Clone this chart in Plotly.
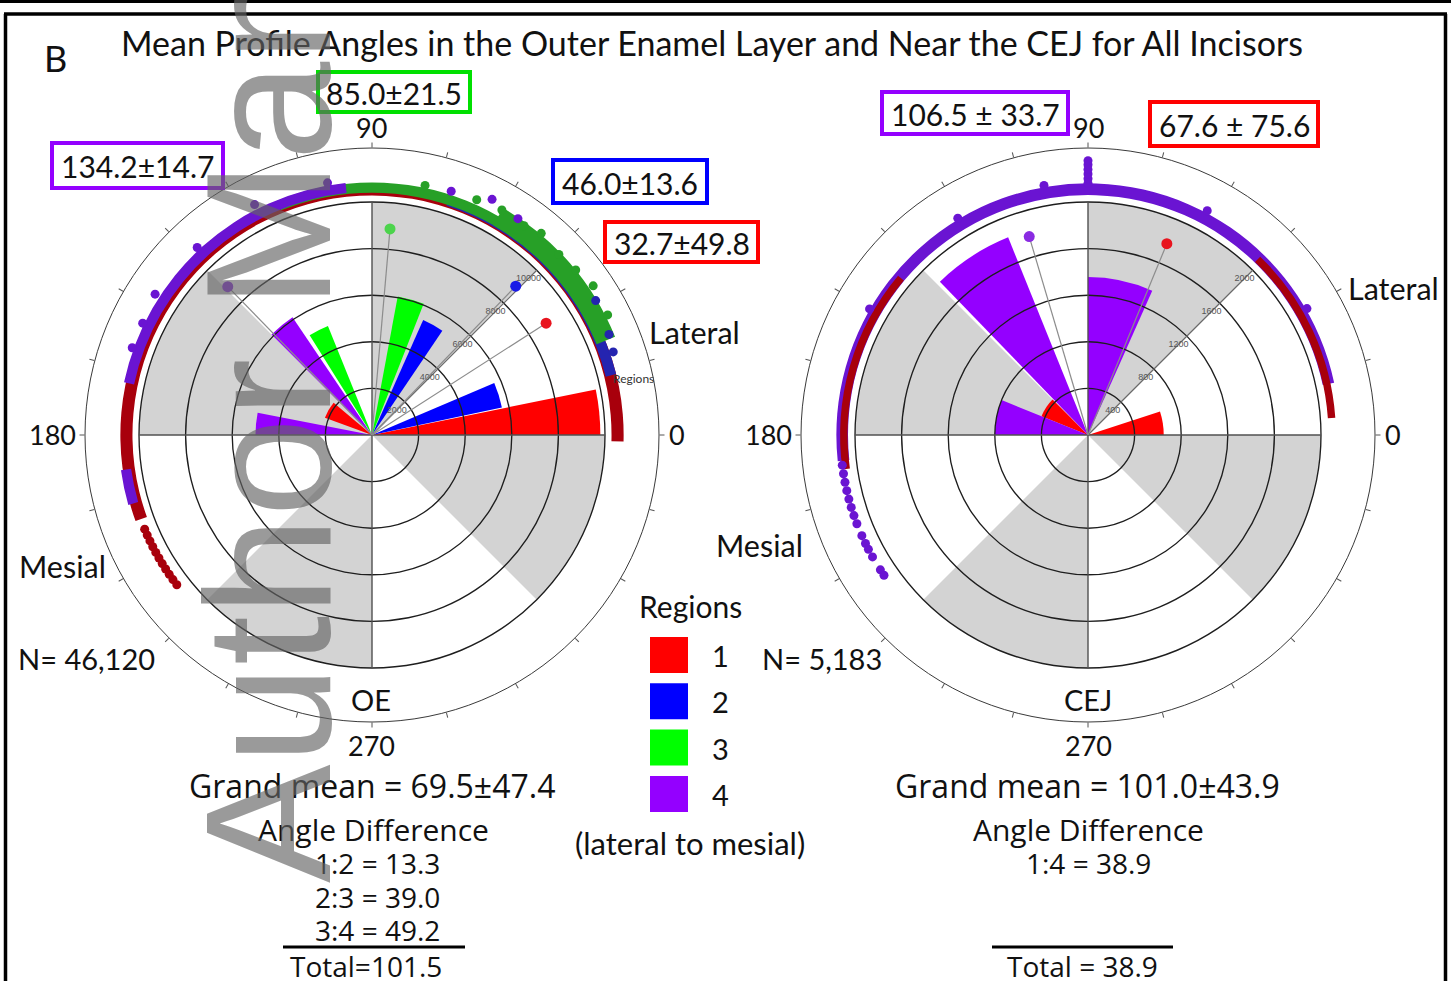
import plotly.graph_objects as go

W, H = 1451, 981

# ---------------- colours ----------------
REGION_COLORS = {1: "#ff0000", 2: "#0000ff", 3: "#00ff00", 4: "#9400ff"}
RING_COLORS = {1: "#a8000c", 2: "#2424b0", 3: "#27a027", 4: "#6a14d2"}
DOT_COLORS = {1: "#e8141e", 2: "#1a1ae6", 3: "#4cd44c", 4: "#8a2be2"}
SECTOR_GRAY = "#d3d3d3"

# ---------------- Outer enamel layer (OE) ----------------
oe_ticks = [2000, 4000, 6000, 8000, 10000]
oe_bin_region = [1, 1, 2, 2, 3, 3, 4, 4]
oe_bin_theta = [5.75, 150, 17.5, 61, 74, 117, 129.5, 174.5]
oe_bin_width = [11.5, 20, 11, 10, 11, 10, 11, 11]
oe_bin_count = [9800, 2150, 5700, 5400, 6050, 5050, 6100, 5000]

oe_mean_region = [1, 2, 3, 4]
oe_mean = [32.7, 46.0, 85.0, 134.2]
oe_sd = [49.8, 13.6, 21.5, 14.7]

# angular spread of the individual profile angles (ring around the rose)
oe_ring_region = [1, 2, 3, 3, 4, 4]
oe_ring_start = [-1.5, 14, 24, 22, 96, 188]
oe_ring_end = [200, 72, 112, 60, 168, 196]
oe_ring_wide = [False, False, False, True, False, False]

oe_pt_region = [2, 2, 2, 3, 3, 3, 3, 3, 3, 3, 3, 3,
                4, 4, 4, 4, 4, 4, 4, 4, 4,
                1, 1, 1, 1, 1, 1, 1, 1, 1, 1, 1]
oe_pt_theta = [19, 23, 31, 27, 34, 39, 44, 50, 54, 60, 66, 78,
               56, 63, 72, 100, 117, 133, 147, 154, 160,
               202.5, 204, 205.5, 207, 208.5, 210, 211.5, 213, 214.5, 216, 217.5]
oe_pt_r = [10950, 11050, 11200, 11350, 11450, 11250, 11150, 11300, 11100, 11150, 11050, 10950,
           11200, 11350, 11000, 10990, 11100, 11000, 11100, 10950, 10950,
           10560, 10560, 10560, 10560, 10560, 10560, 10560, 10560, 10560, 10560, 10560]

# ---------------- Near the CEJ ----------------
cej_ticks = [400, 800, 1200, 1600, 2000]
cej_bin_region = [1, 1, 4, 4, 4]
cej_bin_theta = [9, 146.5, 78, 123, 169]
cej_bin_width = [18, 23, 24, 22, 22]
cej_bin_count = [650, 430, 1356, 1830, 800]

cej_mean_region = [1, 4]
cej_mean = [67.6, 106.5]
cej_sd = [75.6, 33.7]

cej_ring_region = [4, 1, 1]
cej_ring_start = [12, 4, 140]
cej_ring_end = [186, 46, 188]
cej_ring_wide = [False, False, False]

cej_pt_region = [4] * 25
cej_pt_theta = [187, 189, 191, 193, 195, 197, 199, 201, 204, 206, 207.5, 209.5, 213, 214.5,
                90, 90, 90, 90, 90, 90, 30, 62, 100, 121, 150]
cej_pt_r = [2125, 2125, 2125, 2125, 2125, 2125, 2125, 2125, 2125, 2125, 2125, 2125, 2125, 2125,
            2160, 2200, 2240, 2280, 2320, 2355, 2170, 2180, 2175, 2170, 2165]

fig = go.Figure()


def add_panel(sp, ticks, bins, means, ring, pts, cej_style):
    top = ticks[-1]
    reg, th, wd, ct = bins

    # alternating grey 45-degree sectors
    fig.add_trace(go.Barpolar(theta=[67.5, 157.5, 247.5, 337.5], width=[45] * 4, r=[top] * 4,
                              marker_color=SECTOR_GRAY, marker_line_width=0, subplot=sp,
                              hoverinfo="skip", showlegend=False))
    # rose bins
    fig.add_trace(go.Barpolar(theta=th, width=wd, r=ct,
                              marker_color=[REGION_COLORS[g] for g in reg],
                              marker_line_width=0, subplot=sp, hoverinfo="skip", showlegend=False))
    # radial grid circles drawn over the bars
    t = top * 0.0058
    for v in ticks:
        fig.add_trace(go.Barpolar(theta=[90, 270], width=[180, 180], base=[v - t / 2] * 2, r=[t, t],
                                  marker_color="#1e1e1e", marker_line_width=0, subplot=sp,
                                  hoverinfo="skip", showlegend=False))
    # straight axes through the centre
    for a, b in [(0, 180), (90, 270)]:
        fig.add_trace(go.Scatterpolar(theta=[a, a, b], r=[top, 0, top], mode="lines",
                                      line=dict(color="#505050", width=1.4), subplot=sp,
                                      hoverinfo="skip", showlegend=False))
    fig.add_trace(go.Scatterpolar(theta=[45, 45], r=[0, top], mode="lines",
                                  line=dict(color="#6a6a6a", width=1.2), subplot=sp,
                                  hoverinfo="skip", showlegend=False))
    # radial tick labels along the 45-degree line
    fig.add_trace(go.Scatterpolar(theta=[45] * len(ticks), r=[v - 0.05 * top for v in ticks],
                                  mode="text", text=[str(v) for v in ticks],
                                  textfont=dict(size=9, color="#555555", family="Liberation Sans"),
                                  subplot=sp, hoverinfo="skip", showlegend=False))

    # ring of individual angles
    rreg, rs, re_, wide = ring
    if cej_style:
        offs = {4: (1.030, 0.050), 1: (1.032, 0.032)}
    else:
        offs = {1: (1.028, 0.052), 2: (1.034, 0.046), 3: (1.040, 0.044), 4: (1.044, 0.044)}
    for g, s, e, wflag in zip(rreg, rs, re_, wide):
        b0, th_ = offs[g]
        if wflag:
            th_ = 0.085
        fig.add_trace(go.Barpolar(theta=[(s + e) / 2], width=[e - s], base=[b0 * top], r=[th_ * top],
                                  marker_color=RING_COLORS[g], marker_line_width=0, subplot=sp,
                                  hoverinfo="skip", showlegend=False))
    preg, pth, pr = pts
    fig.add_trace(go.Scatterpolar(theta=pth, r=pr, mode="markers",
                                  marker=dict(size=9, color=[RING_COLORS[g] for g in preg],
                                              line=dict(width=0)),
                                  subplot=sp, hoverinfo="skip", showlegend=False))

    # mean direction of each region
    mreg, mval = means
    rdot = 0.888 * top
    for g, m in zip(mreg, mval):
        fig.add_trace(go.Scatterpolar(theta=[m, m], r=[0, rdot], mode="lines",
                                      line=dict(color="#8c8c8c", width=1.2), subplot=sp,
                                      hoverinfo="skip", showlegend=False))
        fig.add_trace(go.Scatterpolar(theta=[m], r=[rdot], mode="markers",
                                      marker=dict(size=11, color=DOT_COLORS[g]), subplot=sp,
                                      hoverinfo="skip", showlegend=False))
    return top * 287 / 233


rmax_oe = add_panel("polar", oe_ticks,
                    (oe_bin_region, oe_bin_theta, oe_bin_width, oe_bin_count),
                    (oe_mean_region, oe_mean),
                    (oe_ring_region, oe_ring_start, oe_ring_end, oe_ring_wide),
                    (oe_pt_region, oe_pt_theta, oe_pt_r), False)
rmax_cej = add_panel("polar2", cej_ticks,
                     (cej_bin_region, cej_bin_theta, cej_bin_width, cej_bin_count),
                     (cej_mean_region, cej_mean),
                     (cej_ring_region, cej_ring_start, cej_ring_end, cej_ring_wide),
                     (cej_pt_region, cej_pt_theta, cej_pt_r), True)


def polar_layout(x0, rmax):
    return dict(
        domain=dict(x=[x0 / W, (x0 + 574) / W], y=[1 - 722 / H, 1 - 148 / H]),
        bgcolor="white",
        barmode="overlay",
        radialaxis=dict(range=[0, rmax], visible=False),
        angularaxis=dict(rotation=0, direction="counterclockwise",
                         tickvals=list(range(0, 360, 15)), ticks="outside", ticklen=5,
                         tickcolor="#555555", tickwidth=1, showticklabels=False,
                         showgrid=False, showline=True, linecolor="#3a3a3a", linewidth=1),
    )


CAL = "Lato, Liberation Sans, sans-serif"
WIDE = "Open Sans, Noto Sans, sans-serif"
ann = []
shapes = []


def text(s, x, y, size, fam=CAL, color="#111111", **kw):
    d = dict(text=s, x=x / W, y=1 - y / H, xref="paper", yref="paper", showarrow=False,
             xanchor="center", yanchor="middle", font=dict(size=size, family=fam, color=color))
    d.update(kw)
    ann.append(d)


def boxed(s, x0, y0, x1, y1, color):
    shapes.append(dict(type="rect", xref="paper", yref="paper", x0=x0 / W, x1=x1 / W,
                       y0=1 - y0 / H, y1=1 - y1 / H, fillcolor="white",
                       line=dict(color=color, width=4)))
    text(s, (x0 + x1) / 2, (y0 + y1) / 2 + 1, 30)


text("B", 55, 58, 36)
text("Mean Profile Angles in the Outer Enamel Layer and Near the CEJ for All Incisors", 712, 42, 34)

# mean ± SD labels
boxed(f"{oe_mean[2]:.1f}±{oe_sd[2]:.1f}", 318, 72, 470, 112, "#00e000")
boxed(f"{oe_mean[3]:.1f}±{oe_sd[3]:.1f}", 52, 143, 223, 188, "#9400ff")
boxed(f"{oe_mean[1]:.1f}±{oe_sd[1]:.1f}", 553, 160, 707, 203, "#0000ff")
boxed(f"{oe_mean[0]:.1f}±{oe_sd[0]:.1f}", 605, 222, 758, 262, "#ff0000")
boxed(f"{cej_mean[1]:.1f} ± {cej_sd[1]:.1f}", 882, 92, 1068, 134, "#9400ff")
boxed(f"{cej_mean[0]:.1f} ± {cej_sd[0]:.1f}", 1150, 102, 1318, 146, "#ff0000")

# angular labels
for cx in (372, 1088):
    text("0", cx + 305, 435, 27)
    text("90", cx, 128, 27)
    text("180", cx - 320, 435, 27)
    text("270", cx, 745, 27)

text("Regions", 633, 378, 12, color="#333333")
text("Lateral", 694, 332, 30.5)
text("Lateral", 1393, 288, 30.5)
text("Mesial", 62, 566, 30.5)
text("Mesial", 759, 545, 30.5)
text("N= 46,120", 86, 658, 29)
text("N= 5,183", 822, 658, 29)
text("OE", 371, 699, 29)
text("CEJ", 1088, 699, 29)

text("Grand mean = 69.5±47.4", 372, 785, 32, WIDE)
text("Grand mean = 101.0±43.9", 1087, 785, 32, WIDE)
text("Angle Difference", 373, 829, 30, WIDE)
text("Angle Difference", 1088, 829, 30, WIDE)
for i, s in enumerate(["1:2 = 13.3", "2:3 = 39.0", "3:4 = 49.2"]):
    text(s, 377, 863 + 33.5 * i, 28, WIDE)
text("1:4 = 38.9", 1088, 863, 28, WIDE)
text("Total=101.5", 366, 966, 28, WIDE)
text("Total = 38.9", 1082, 966, 28, WIDE)

# legend
text("Regions", 690, 606, 30)
for i, g in enumerate([1, 2, 3, 4]):
    text(str(g), 720, 655 + 46.5 * i, 29)
text("(lateral to mesial)", 690, 843, 31)

for i, g in enumerate([1, 2, 3, 4]):
    y0 = 637 + 46.3 * i
    shapes.append(dict(type="rect", xref="paper", yref="paper", x0=650 / W, x1=688 / W,
                       y0=1 - y0 / H, y1=1 - (y0 + 36) / H,
                       fillcolor=REGION_COLORS[g], line=dict(width=0)))
# rules above the totals
shapes.append(dict(type="line", xref="paper", yref="paper", x0=283 / W, x1=465 / W,
                   y0=1 - 947 / H, y1=1 - 947 / H, line=dict(color="black", width=3)))
shapes.append(dict(type="line", xref="paper", yref="paper", x0=992 / W, x1=1173 / W,
                   y0=1 - 947 / H, y1=1 - 947 / H, line=dict(color="black", width=3)))
# panel frame
shapes.append(dict(type="rect", xref="paper", yref="paper", x0=0, x1=1, y0=1 - 3 / H, y1=1,
                   fillcolor="black", line=dict(width=0)))
shapes.append(dict(type="line", xref="paper", yref="paper", x0=4 / W, x1=1447 / W,
                   y0=1 - 14 / H, y1=1 - 14 / H, line=dict(color="black", width=3.5)))
shapes.append(dict(type="line", xref="paper", yref="paper", x0=5.5 / W, x1=5.5 / W,
                   y0=0, y1=1 - 14 / H, line=dict(color="black", width=3.5)))
shapes.append(dict(type="line", xref="paper", yref="paper", x0=1445.5 / W, x1=1445.5 / W,
                   y0=0, y1=1 - 14 / H, line=dict(color="black", width=3.5)))

# watermark
ann.append(dict(text="Author Manuscript", x=268 / W, y=1 - 885 / H, xref="paper", yref="paper",
                showarrow=False, xanchor="center", yanchor="bottom", textangle=-90,
                font=dict(size=178, family="Liberation Sans", color="rgba(100,100,100,0.65)")))

fig.update_layout(
    width=W, height=H, margin=dict(l=0, r=0, t=0, b=0),
    paper_bgcolor="white", plot_bgcolor="white",
    showlegend=False,
    polar=polar_layout(85, rmax_oe),
    polar2=polar_layout(801, rmax_cej),
    annotations=ann,
    shapes=shapes,
)

fig.write_html("out.html")
